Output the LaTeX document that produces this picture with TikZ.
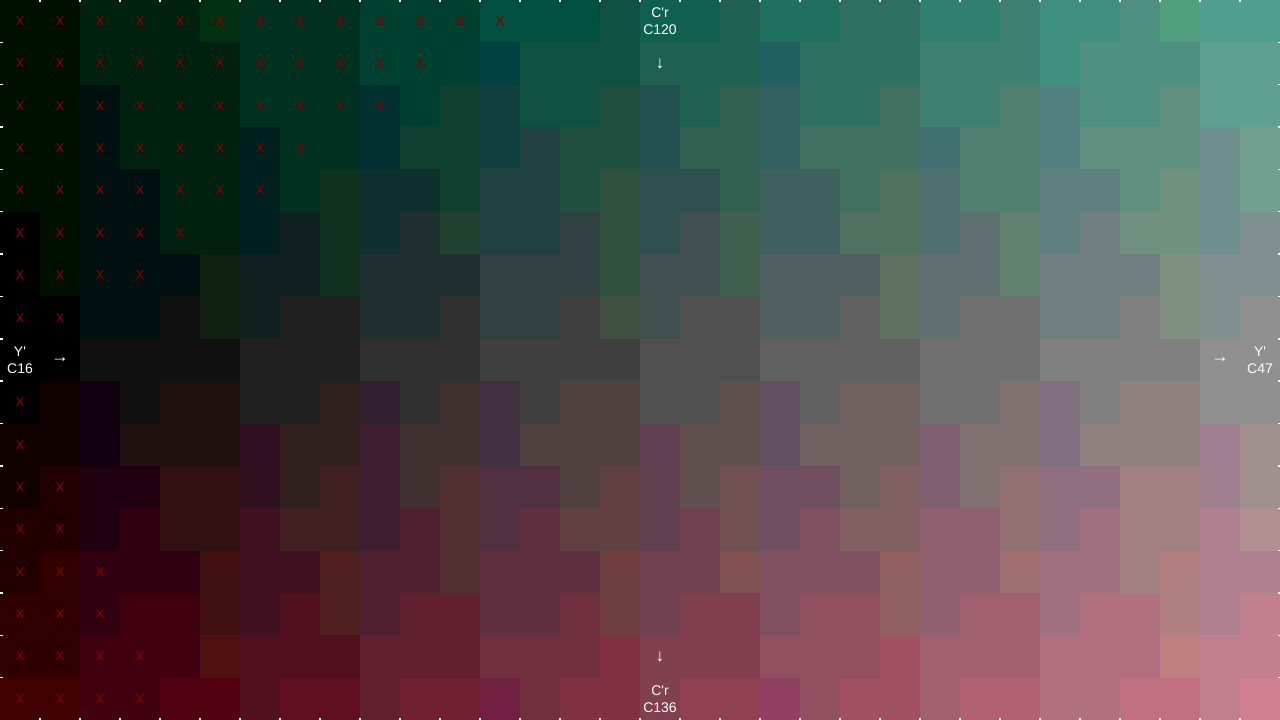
\documentclass[tikz,border=0pt]{standalone}
\usepackage{fontspec}
\setmainfont{Liberation Sans}
\usepackage{tikz}
\definecolor{clipred}{RGB}{128,0,0}
\tikzset{
  axislabel/.style={text=white, align=center, inner sep=0pt, font=\fontsize{10.5}{12.75}\selectfont},
  axisarrow/.style={text=white, inner sep=0pt, font=\fontsize{13}{13}\selectfont},
  clipmark/.style={text=clipred, inner sep=0pt, font=\fontsize{12.5}{12.5}\selectfont},
  tickmark/.style={white, line width=1.1pt}
}

\begin{document}
\begin{tikzpicture}[x=0.75pt, y=-0.75pt]
  \useasboundingbox (0,0) rectangle (1280,720);

  % Y' runs along the columns (16..47), C'r down the rows (120..136), Cb fixed at 128
  \foreach \col in {0,...,31}{
    \foreach \row in {0,...,16}{
      \pgfmathsetmacro{\dcr}{\row-8}
      \pgfmathsetmacro{\valr}{\col+1.53966*\dcr}
      \pgfmathsetmacro{\valg}{\col-0.45768*\dcr}
      \pgfmathtruncatemacro{\cellr}{16*max(0,round(0.291875*\valr))}
      \pgfmathtruncatemacro{\cellg}{16*max(0,round(0.291875*\valg))}
      \pgfmathtruncatemacro{\cellb}{16*round(0.291875*\col)}
      \definecolor{cellfill}{RGB}{\cellr,\cellg,\cellb}
      \fill[cellfill] ({40*\col},{\row*720/17}) rectangle ++(40.6,{720/17+0.6});
      % out of gamut: mark it
      \pgfmathtruncatemacro{\clipped}{min(\valr,\valg)<0}
      \ifnum\clipped=1
        \node[clipmark] (mark-\col-\row) at ({40*\col+20},{(\row+0.5)*720/17}) {x};
      \fi
    }
  }

  % ticks on the frame
  \foreach \k in {1,...,31}{
    \draw[tickmark] ({40*\k},0) -- ++(0,2.5);
    \draw[tickmark] ({40*\k},720) -- ++(0,-2.5);
  }
  \foreach \k in {1,...,16}{
    \draw[tickmark] (0,{\k*720/17}) -- ++(2.5,0);
    \draw[tickmark] (1280,{\k*720/17}) -- ++(-2.5,0);
  }

  % axis labels
  \node[axislabel] (crtop) at (660,21.18) {C\textquotesingle r\\C120};
  \node[axisarrow] (crtoparrow) at (660,63.53) {↓};
  \node[axislabel] (yleft) at (20,360) {Y\textquotesingle\\C16};
  \node[axisarrow] (yleftarrow) at (60,360) {→};
  \node[axisarrow] (yrightarrow) at (1220,360) {→};
  \node[axislabel] (yright) at (1260,360) {Y\textquotesingle\\C47};
  \node[axisarrow] (crbotarrow) at (660,656.47) {↓};
  \node[axislabel] (crbot) at (660,698.82) {C\textquotesingle r\\C136};
\end{tikzpicture}
\end{document}
